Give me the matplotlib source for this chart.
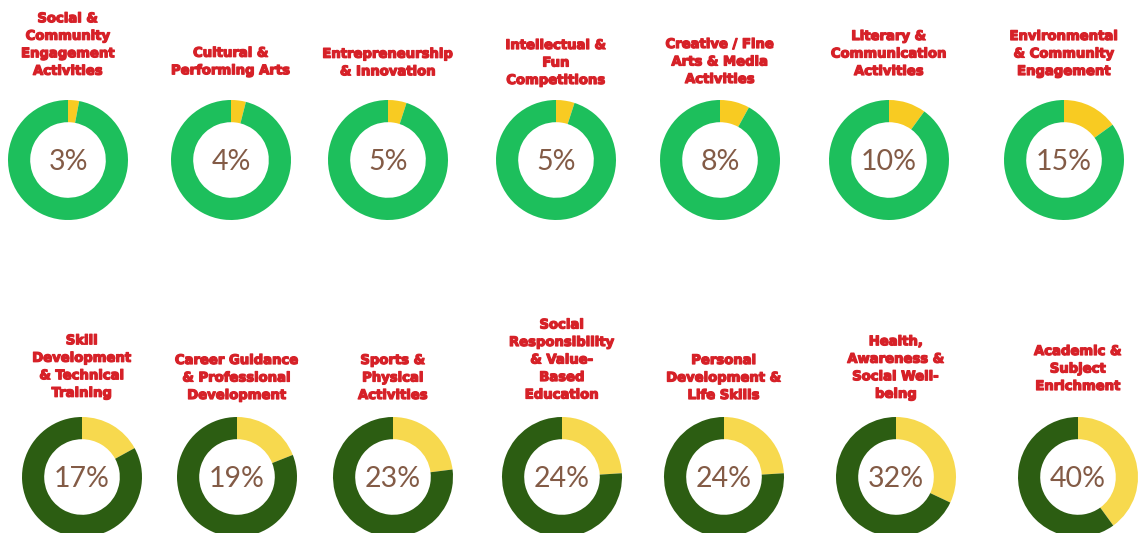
import matplotlib
matplotlib.use("Agg")
import matplotlib.pyplot as plt
import matplotlib.patheffects as pe

# ── Data ─────────────────────────────────────────────────────────────────────
top_labels = [
    "Social &\nCommunity\nEngagement\nActivities",
    "Cultural &\nPerforming Arts",
    "Entrepreneurship\n& Innovation",
    "Intellectual &\nFun\nCompetitions",
    "Creative / Fine\nArts & Media\nActivities",
    "Literary &\nCommunication\nActivities",
    "Environmental\n& Community\nEngagement",
]
top_values = [3, 4, 5, 5, 8, 10, 15]

bottom_labels = [
    "Skill\nDevelopment\n& Technical\nTraining",
    "Career Guidance\n& Professional\nDevelopment",
    "Sports &\nPhysical\nActivities",
    "Social\nResponsibility\n& Value-\nBased\nEducation",
    "Personal\nDevelopment &\nLife Skills",
    "Health,\nAwareness &\nSocial Well-\nbeing",
    "Academic &\nSubject\nEnrichment",
]
bottom_values = [17, 19, 23, 24, 24, 32, 40]

# ── Layout (pixels) ──────────────────────────────────────────────────────────
W, H = 1138, 533
R = 60
top_cx = [68, 231, 388, 556, 720, 889, 1064]
top_cy = 160
top_title_y = [45, 62, 63, 63, 62, 54, 54]
bot_cx = [82, 237, 393, 562, 724, 896, 1078]
bot_cy = 477
bot_title_y = [367, 378, 378, 360, 378, 368, 369]

TITLE_RED = "#D62128"
PCT_BROWN = "#835B46"

fig = plt.figure(figsize=(W / 100, H / 100), dpi=100)
fig.patch.set_facecolor("white")


def donut(cx, cy, val, main_col, part_col):
    ax = fig.add_axes([(cx - R) / W, 1 - (cy + R) / H, 2 * R / W, 2 * R / H])
    ax.pie([val, 100 - val], colors=[part_col, main_col], startangle=90,
           counterclock=False, radius=1.0,
           wedgeprops=dict(width=0.37, edgecolor="none"))
    ax.set_xlim(-1, 1)
    ax.set_ylim(-1, 1)
    ax.set_aspect("equal")
    ax.axis("off")
    ax.text(0, -0.03, f"{val}%", ha="center", va="center", fontsize=20.5,
            color=PCT_BROWN, family=["Lato", "DejaVu Sans"], fontweight="normal")


def title(cx, ty, lab):
    fig.text(cx / W, 1 - ty / H, lab, ha="center", va="center", fontsize=9.5,
             color=TITLE_RED, fontweight="bold", linespacing=1.45,
             family=["DejaVu Sans"],
             path_effects=[pe.withStroke(linewidth=0.9, foreground=TITLE_RED)])


for lab, val, cx, ty in zip(top_labels, top_values, top_cx, top_title_y):
    donut(cx, top_cy, val, "#1DBF5C", "#F8CB22")
    title(cx, ty, lab)

for lab, val, cx, ty in zip(bottom_labels, bottom_values, bot_cx, bot_title_y):
    donut(cx, bot_cy, val, "#2C5D12", "#F7D94E")
    title(cx, ty, lab)

plt.savefig("out.png", dpi=100)
plt.close()
